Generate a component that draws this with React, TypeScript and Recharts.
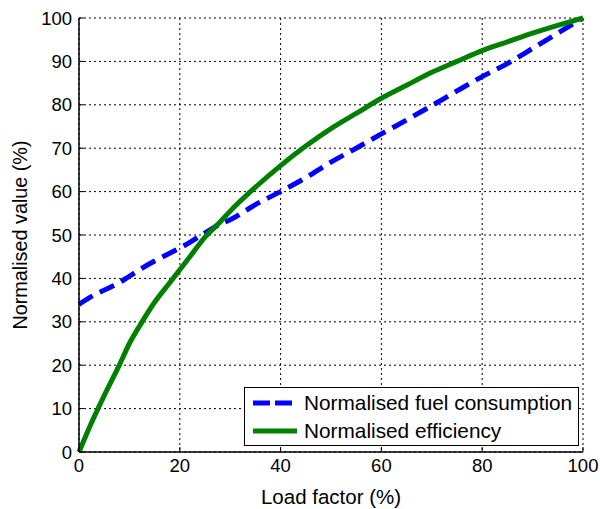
import React from 'react';
import { LineChart, Line, XAxis, YAxis, CartesianGrid } from 'recharts';

const loadFactor = [0, 2, 5, 8, 10, 12, 15, 18, 20, 22, 25, 28, 30, 35, 40, 45, 50, 55, 60, 65, 70, 75, 80, 85, 90, 95, 100];
const fuelConsumption = [34, 35.5, 37.3, 39, 40.5, 42, 44, 45.8, 47, 48.3, 50.5, 52.5, 53.5, 57, 60, 63.2, 66.8, 70, 73.3, 76.5, 79.8, 83.2, 86.5, 89.5, 93, 96.5, 100];
const efficiency = [0, 5.5, 13, 20, 25, 29, 34.5, 39, 42, 45, 49.5, 53, 55.5, 61, 66, 70.5, 74.5, 78, 81.5, 84.5, 87.5, 90, 92.5, 94.5, 96.5, 98.3, 100];
const xTicks = [0, 20, 40, 60, 80, 100];
const yTicks = [0, 10, 20, 30, 40, 50, 60, 70, 80, 90, 100];

const data = loadFactor.map((x, i) => ({ x, fuel: fuelConsumption[i], eff: efficiency[i] }));

const FONT = '"Liberation Sans", Arial, Helvetica, sans-serif';

const LegendBox = () => (
  <div
    style={{
      position: 'absolute',
      left: 244,
      top: 387,
      border: '1.5px solid #000',
      background: '#fff',
      width: 335,
      height: 59,
      boxSizing: 'border-box',
      fontFamily: FONT,
      fontSize: 20.8,
      color: '#000',
      padding: '1px 0 0 8px',
      lineHeight: 1,
    }}
  >
    <div style={{ display: 'flex', alignItems: 'center', height: 28 }}>
      <svg width={44} height={10} style={{ marginRight: 7 }}>
        <line x1={0} y1={5} x2={44} y2={5} stroke="#0000ff" strokeWidth={5} strokeDasharray="17 5" />
      </svg>
      <span>Normalised fuel consumption</span>
    </div>
    <div style={{ display: 'flex', alignItems: 'center', height: 28 }}>
      <svg width={44} height={10} style={{ marginRight: 7 }}>
        <line x1={0} y1={5} x2={44} y2={5} stroke="#008000" strokeWidth={5} />
      </svg>
      <span>Normalised efficiency</span>
    </div>
  </div>
);

export default function App() {
  return (
    <div style={{ position: 'absolute', left: 0, top: 0, width: 600, height: 509, background: '#fff' }}>
      <LineChart width={600} height={509} data={data} margin={{ top: 18, right: 17, bottom: 0, left: 0 }}>
        <CartesianGrid xAxisId="b" yAxisId="l" stroke="#000" strokeDasharray="2 3" strokeWidth={1} />
        <XAxis
          xAxisId="b"
          dataKey="x"
          type="number"
          domain={[0, 100]}
          ticks={xTicks}
          height={57}
          tickSize={-5}
          tickMargin={12}
          axisLine={{ stroke: '#000', strokeWidth: 1.5 }}
          tickLine={{ stroke: '#000' }}
          tick={{ fill: '#000', fontSize: 18.5, fontFamily: FONT }}
          label={{ value: 'Load factor (%)', position: 'insideBottom', offset: 5, fill: '#000', fontSize: 20.5, fontFamily: FONT }}
        />
        <XAxis
          xAxisId="t"
          orientation="top"
          dataKey="x"
          type="number"
          domain={[0, 100]}
          ticks={xTicks}
          height={0}
          tickSize={-5}
          tickFormatter={() => ''}
          axisLine={{ stroke: '#000', strokeWidth: 1.5 }}
          tickLine={{ stroke: '#000' }}
        />
        <YAxis
          yAxisId="l"
          type="number"
          domain={[0, 100]}
          ticks={yTicks}
          width={79}
          tickSize={-5}
          tickMargin={12}
          axisLine={{ stroke: '#000', strokeWidth: 1.5 }}
          tickLine={{ stroke: '#000' }}
          tick={{ fill: '#000', fontSize: 18.5, fontFamily: FONT }}
          label={{ value: 'Normalised value (%)', angle: -90, position: 'insideLeft', offset: 20, fill: '#000', fontSize: 19.8, fontFamily: FONT, style: { textAnchor: 'middle' } }}
        />
        <YAxis
          yAxisId="r"
          orientation="right"
          type="number"
          domain={[0, 100]}
          ticks={yTicks}
          width={0}
          tickSize={-5}
          tickFormatter={() => ''}
          axisLine={{ stroke: '#000', strokeWidth: 1.5 }}
          tickLine={{ stroke: '#000' }}
        />
        <Line
          xAxisId="b"
          yAxisId="l"
          type="monotone"
          dataKey="fuel"
          stroke="#0000ff"
          strokeWidth={5}
          strokeDasharray="16 8"
          dot={false}
          isAnimationActive={false}
        />
        <Line
          xAxisId="b"
          yAxisId="l"
          type="monotone"
          dataKey="eff"
          stroke="#008000"
          strokeWidth={5}
          dot={false}
          isAnimationActive={false}
        />
      </LineChart>
      <LegendBox />
    </div>
  );
}
